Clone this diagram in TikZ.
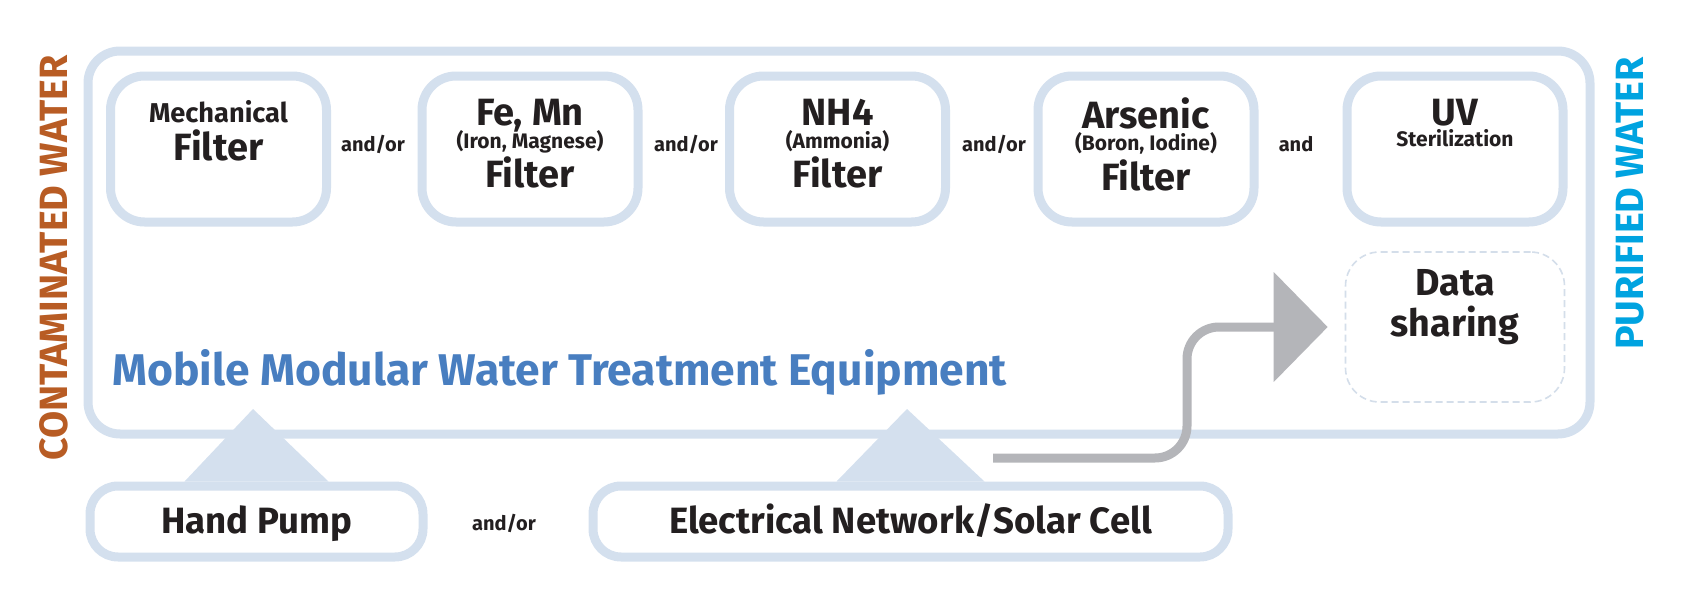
\documentclass[tikz,border=0pt]{standalone}
\usepackage{fontspec}
\setmainfont{Fira Sans}
\usetikzlibrary{arrows.meta,calc}

\definecolor{frame}{RGB}{212,224,238}
\definecolor{dashframe}{RGB}{212,222,234}
\definecolor{wiregray}{RGB}{180,181,185}
\definecolor{ink}{RGB}{35,31,32}
\definecolor{titleblue}{RGB}{72,126,192}
\definecolor{rust}{RGB}{184,92,36}
\definecolor{sky}{RGB}{0,163,224}

\newcommand{\filterhead}[1]{{\fontsize{13.6}{19}\selectfont #1}}
\newcommand{\filtersub}[1]{{\fontsize{10.5}{19}\selectfont #1}}

\begin{document}
\begin{tikzpicture}[x=0.5pt,y=-0.5pt,text=ink,
    module/.style={draw=frame,line width=4.5pt,fill=white,rounded corners=17pt,
        minimum width=108pt,minimum height=73pt,inner sep=0pt},
    source/.style={draw=frame,line width=4.5pt,fill=white,rounded corners=14pt,
        minimum height=35.5pt,inner sep=0pt,text height=13pt,text depth=1.5pt,
        font=\bfseries\fontsize{18.3}{20}\selectfont},
    big/.style={font=\bfseries\fontsize{19}{19}\selectfont,align=center},
    joint/.style={font=\bfseries\fontsize{10}{12}\selectfont,anchor=base},
    side/.style={font=\bfseries\fontsize{19.7}{21}\selectfont,rotate=90},
    feed/.style={fill=frame},
    signal/.style={draw=wiregray,line width=4.5pt,rounded corners=16pt,
        shorten >=8.5pt,-{Triangle[length=27pt,width=54pt]}}]
    \useasboundingbox (0,0) rectangle (1693,594);

    % equipment frame
    \node[draw=frame,line width=4.5pt,fill=white,rounded corners=16pt,
        minimum width=751pt,minimum height=191.5pt] (unit) at (839,242.5) {};
    \node[side,text=rust] (dirty) at (53.5,258) {CONTAMINATED WATER};
    \node[side,text=sky] (clean) at (1630,203.5) {PURIFIED WATER};

    % treatment modules
    \node[module] (mech) at (218.5,149) {};
    \node[module] (iron) at (530,149) {};
    \node[module] (ammo) at (837.5,149) {};
    \node[module] (arsen) at (1146,149) {};
    \node[module] (uv) at (1455,149) {};

    \node[big] (mechtxt) at (218.5,131) {\filterhead{Mechanical}\\Filter};
    \node[big] (irontxt) at (530,144)
        {Fe, Mn\\[-7.8pt]\filtersub{(Iron, Magnese)}\\[0.8pt]Filter};
    \node[big] (ammotxt) at (837.5,144)
        {NH4\\[-7.8pt]\filtersub{(Ammonia)}\\[0.8pt]Filter};
    \node[big] (arsentxt) at (1146,144)
        {Arsenic\\[-7.8pt]\filtersub{(Boron, Iodine)}\\[0.8pt]Filter};
    \node[big] (uvtxt) at (1455,123.4)
        {UV\\[-8.6pt]{\fontsize{10.5}{19}\selectfont Sterilization}};

    \node[joint] (j1) at (373,151) {and/or};
    \node[joint] (j2) at (686,151) {and/or};
    \node[joint] (j3) at (994,151) {and/or};
    \node[joint] (j4) at (1296,151) {and};

    \node[draw=dashframe,line width=0.8pt,dash pattern=on 3.5pt off 2pt,
        rounded corners=17pt,minimum width=109.5pt,minimum height=75pt]
        (data) at (1455,327) {};
    \node[font=\bfseries\fontsize{18.8}{20.5}\selectfont,align=center]
        (datatxt) at (1455,307) {Data\\sharing};

    \node[font=\bfseries\fontsize{22.2}{24}\selectfont,text=titleblue,
        anchor=base west,inner sep=0pt] (heading) at (112,385)
        {Mobile Modular Water Treatment Equipment};

    % power sources
    \coordinate (pumptip) at (253,409);
    \coordinate (powertip) at (907,409);
    \node[source,minimum width=166.5pt] (pump) at (256.5,521.5) {Hand Pump};
    \node[source,minimum width=317.5pt] (power) at (910.5,521.5)
        {Electrical Network/Solar Cell};
    \node[joint] (j5) at (504,530) {and/or};
    \fill[feed] ($(pump.north)+(-72,0)$) -- (pumptip)
        -- ($(pump.north)+(72,0)$) -- cycle;
    \fill[feed] ($(power.north)+(-74,0)$) -- (powertip)
        -- ($(power.north)+(74,0)$) -- cycle;

    \coordinate (wirestart) at (993,458);
    \draw[signal] (wirestart) -- (1187,458) |- (data.west);
\end{tikzpicture}
\end{document}
